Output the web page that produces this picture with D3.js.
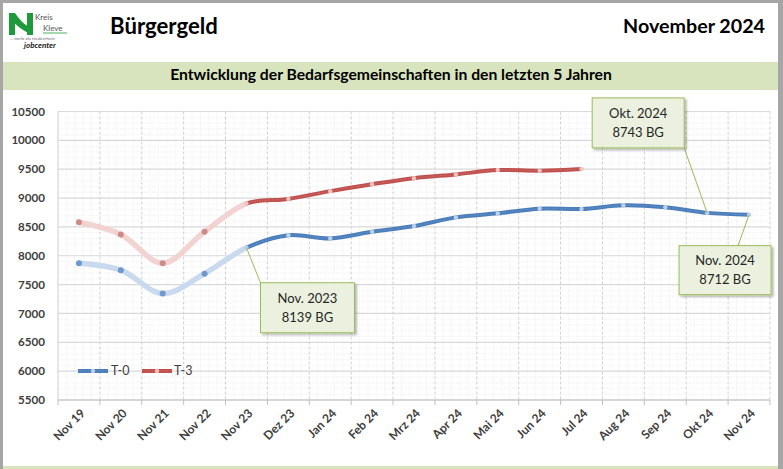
<!DOCTYPE html>
<html>
<head>
<meta charset="utf-8">
<script src="https://cdn.jsdelivr.net/npm/d3@7"></script>
<style>
  html,body{margin:0;padding:0;background:#fff;}
  svg{display:block;font-family:Lato,"Open Sans",sans-serif;}
</style>
</head>
<body>
<svg id="chart" width="783" height="469"></svg>
<script>
// ---- data ----
const categories = ["Nov 19","Nov 20","Nov 21","Nov 22","Nov 23","Dez 23","Jan 24","Feb 24","Mrz 24","Apr 24","Mai 24","Jun 24","Jul 24","Aug 24","Sep 24","Okt 24","Nov 24"];
const seriesT0 = [7870,7750,7345,7690,8139,8355,8300,8415,8515,8665,8735,8815,8810,8875,8840,8743,8712];
const seriesT3 = [8580,8370,7870,8415,8905,8985,9120,9240,9345,9410,9485,9475,9505];
const seriesNames = ["T-0","T-3"];
const yTicks = [5500,6000,6500,7000,7500,8000,8500,9000,9500,10000,10500];
const annotations = [
  {series:0, cat:"Nov 23", lines:["Nov. 2023"], dx:14, dy:35, w:94, h:50, ax:0, ay:0},
  {series:0, cat:"Okt 24", lines:["Okt. 2024"], dx:-115, dy:-115, w:92, h:50, ax:92, ay:50},
  {series:0, cat:"Nov 24", lines:["Nov. 2024"], dx:-70, dy:31, w:92, h:49, ax:59, ay:0}
];
const fadeUntil = "Nov 23";

const svg = d3.select("#chart");
const W = 783, H = 469;

// defs
const defs = svg.append("defs");
const f = defs.append("filter").attr("id","shadow").attr("x","-20%").attr("y","-20%").attr("width","150%").attr("height","150%");
f.append("feDropShadow").attr("dx",2).attr("dy",2).attr("stdDeviation",1.3).attr("flood-color","#000").attr("flood-opacity",0.28);

// frame
svg.append("rect").attr("x",0).attr("y",0).attr("width",W).attr("height",H).attr("fill","#fff");
svg.append("rect").attr("x",0).attr("y",0).attr("width",W).attr("height",3).attr("fill","#a6a6a6");
svg.append("rect").attr("x",0).attr("y",0).attr("width",3).attr("height",H).attr("fill","#a6a6a6");
svg.append("rect").attr("x",778).attr("y",0).attr("width",5).attr("height",H).attr("fill","#a6a6a6");
svg.append("rect").attr("x",3).attr("y",466).attr("width",775).attr("height",3).attr("fill","#d7e4bd");

// logo
const logo = svg.append("g");
logo.append("path").attr("d","M9,13 L15,13 L15,35 L9,35 Z").attr("fill","#1e9a3c");
logo.append("path").attr("d","M27,13 L33,13 L33,35 L27,35 Z").attr("fill","#1e9a3c");
logo.append("path").attr("d","M9,13 L15,13 C20,20 24,25 33,29 L33,35 C24,32 17,25 9,19 Z").attr("fill","#1e9a3c");
logo.append("text").attr("x",35).attr("y",20).attr("font-size",8).attr("fill","#555").text("Kreis");
logo.append("text").attr("x",43).attr("y",30.5).attr("font-size",8).attr("fill","#555").text("Kleve");
logo.append("line").attr("x1",43).attr("x2",67).attr("y1",33).attr("y2",33).attr("stroke","#1e9a3c").attr("stroke-width",0.8);
logo.append("text").attr("x",10).attr("y",40).attr("font-size",4.5).attr("fill","#666").text("... mehr als niederrhein");
logo.append("text").attr("x",24).attr("y",48).attr("font-size",8).attr("font-weight","bold").attr("font-style","italic").attr("fill","#222").text("jobcenter");

// titles
function fit(sel, target){
  const n = sel.node(); const w = n.getComputedTextLength();
  const fs = parseFloat(sel.attr("font-size"));
  if (w>0) sel.attr("font-size", (fs*target/w).toFixed(2));
}
fit(svg.append("text").attr("x",110).attr("y",34).attr("font-size",21).attr("font-weight","bold").attr("fill","#000").text("Bürgergeld"),108);
fit(svg.append("text").attr("x",765).attr("y",33).attr("text-anchor","end").attr("font-size",20).attr("font-weight","bold").attr("fill","#000").text("November 2024"),142);
svg.append("rect").attr("x",3).attr("y",62).attr("width",775).attr("height",28).attr("fill","#d7e4bd");
const sub = svg.append("text").attr("x",391).attr("y",80).attr("text-anchor","middle").attr("font-size",14).attr("font-weight","bold").attr("fill","#000").text("Entwicklung der Bedarfsgemeinschaften in den letzten 5 Jahren");
fit(sub,442);

// scales
const x = d3.scaleBand().domain(categories).range([58,770]).padding(0);
const bw = x.bandwidth();
const cx = c => x(c) + bw/2;
const y = d3.scaleLinear().domain([5500,10500]).range([400,111.5]);

// minor grid
const g = svg.append("g");
const minorY = d3.range(5500,10501,100).filter(v=>v%500!==0);
g.selectAll(".mh").data(minorY).join("line")
  .attr("x1",58).attr("x2",770).attr("y1",d=>y(d)).attr("y2",d=>y(d))
  .attr("stroke","#eeeeee").attr("stroke-width",0.8).attr("stroke-dasharray","1,1");
const minorX = [];
categories.forEach(c=>{ for(let i=1;i<5;i++) minorX.push(x(c)+bw*i/5); });
g.selectAll(".mv").data(minorX).join("line")
  .attr("x1",d=>d).attr("x2",d=>d).attr("y1",111.5).attr("y2",400)
  .attr("stroke","#eeeeee").attr("stroke-width",0.8).attr("stroke-dasharray","1,1");

// major grid
g.selectAll(".hy").data(yTicks).join("line")
  .attr("x1",58).attr("x2",770).attr("y1",d=>y(d)).attr("y2",d=>y(d))
  .attr("stroke","#d9d9d9").attr("stroke-width",1.2);
const edges = categories.map(c=>x(c)).concat([770]);
g.selectAll(".vx").data(edges.slice(1)).join("line")
  .attr("x1",d=>d).attr("x2",d=>d).attr("y1",111.5).attr("y2",400)
  .attr("stroke","#d0d0d0").attr("stroke-width",1).attr("stroke-dasharray","3,2");
g.append("line").attr("x1",58).attr("x2",58).attr("y1",111.5).attr("y2",400).attr("stroke","#d0d0d0");
g.append("line").attr("x1",58).attr("x2",770).attr("y1",400).attr("y2",400).attr("stroke","#bfbfbf").attr("stroke-width",1.2);
g.selectAll(".tk").data(edges).join("line")
  .attr("x1",d=>d).attr("x2",d=>d).attr("y1",400).attr("y2",405)
  .attr("stroke","#bfbfbf");

// axes labels
svg.append("g").selectAll("text").data(yTicks).join("text")
  .attr("x",45).attr("y",d=>y(d)).attr("dy","0.35em").attr("text-anchor","end")
  .attr("font-size",11.6).attr("font-weight","bold").attr("fill","#404040").text(d=>d);
svg.append("g").selectAll("text").data(categories).join("text")
  .attr("transform",d=>`translate(${cx(d)+4},${411}) rotate(-45)`)
  .attr("dy","0.35em").attr("text-anchor","end")
  .attr("font-size",12).attr("font-weight","bold").attr("fill","#404040").text(d=>d);

// lines
const styles = [
  {dark:"#4a7ebb", light:"#cadaee", fadeMark:"#6f98cc", mark:"#bcd0ea", tex:"#7fa3d2"},
  {dark:"#c0504d", light:"#f2d3d2", fadeMark:"#cc8a88", mark:"#eec3c2", tex:"#d98380"}
];
const fadeX = cx(fadeUntil);
defs.append("clipPath").attr("id","clipFade").append("rect").attr("x",0).attr("y",0).attr("width",fadeX).attr("height",H);
defs.append("clipPath").attr("id","clipMain").append("rect").attr("x",fadeX).attr("y",0).attr("width",W-fadeX).attr("height",H);

const line = d3.line().x(d=>cx(d.c)).y(d=>y(d.v)).curve(d3.curveCatmullRom.alpha(0.5));
const all = [seriesT0, seriesT3];
const lg = svg.append("g");
const fi = categories.indexOf(fadeUntil);
all.forEach((vals,si)=>{
  const pts = vals.map((v,i)=>({c:categories[i], v}));
  const st = styles[si];
  lg.append("path").attr("d",line(pts)).attr("fill","none").attr("stroke",st.light).attr("stroke-width",5.5).attr("stroke-linecap","round").attr("clip-path","url(#clipFade)");
  lg.append("path").attr("d",line(pts)).attr("fill","none").attr("stroke",st.dark).attr("stroke-width",4).attr("clip-path","url(#clipMain)");
  lg.append("path").attr("d",line(pts)).attr("fill","none").attr("stroke",st.tex).attr("stroke-width",1.2).attr("stroke-dasharray","1,1.5").attr("clip-path","url(#clipMain)").attr("opacity",0.6);
  lg.selectAll(null).data(pts).join("circle")
    .attr("cx",d=>cx(d.c)).attr("cy",d=>y(d.v))
    .attr("r",(d,i)=> i<fi ? 3 : 2.2)
    .attr("fill",(d,i)=> i<fi ? st.fadeMark : st.mark);
});

// legend
const legend = svg.append("g");
[[78,111],[142,174]].forEach((p,i)=>{
  const st = styles[i];
  legend.append("line").attr("x1",p[0]).attr("x2",p[0]+30).attr("y1",371).attr("y2",371).attr("stroke",st.dark).attr("stroke-width",4);
  legend.append("line").attr("x1",p[0]).attr("x2",p[0]+30).attr("y1",371).attr("y2",371).attr("stroke",st.tex).attr("stroke-width",1.2).attr("stroke-dasharray","1,1.5").attr("opacity",0.6);
  legend.append("circle").attr("cx",p[0]+15).attr("cy",371).attr("r",2.2).attr("fill",st.mark);
  legend.append("text").attr("x",p[1]).attr("y",371).attr("dy","0.35em").attr("font-size",12.5).attr("fill","#404040").text(seriesNames[i]);
});

// annotations
const ag = svg.append("g");
annotations.forEach(a=>{
  const vals = all[a.series];
  const v = vals[categories.indexOf(a.cat)];
  const px = cx(a.cat), py = y(v);
  const bx = px + a.dx, by = py + a.dy;
  ag.append("line").attr("x1",px).attr("y1",py).attr("x2",bx+a.ax).attr("y2",by+a.ay).attr("stroke","#9bbb59").attr("stroke-width",1);
  ag.append("rect").attr("x",bx).attr("y",by).attr("width",a.w).attr("height",a.h)
    .attr("fill","#ebf1de").attr("stroke","#9bbb59").attr("stroke-width",1).attr("filter","url(#shadow)");
  const lines = a.lines.concat([`${v} BG`]);
  lines.forEach((t,k)=>{
    ag.append("text").attr("x",bx+a.w/2).attr("y",by+a.h/2 + (k-0.5)*19.5).attr("dy","0.35em")
      .attr("text-anchor","middle").attr("font-size",13).attr("fill","#262626").text(t);
  });
});
</script>
</body>
</html>
